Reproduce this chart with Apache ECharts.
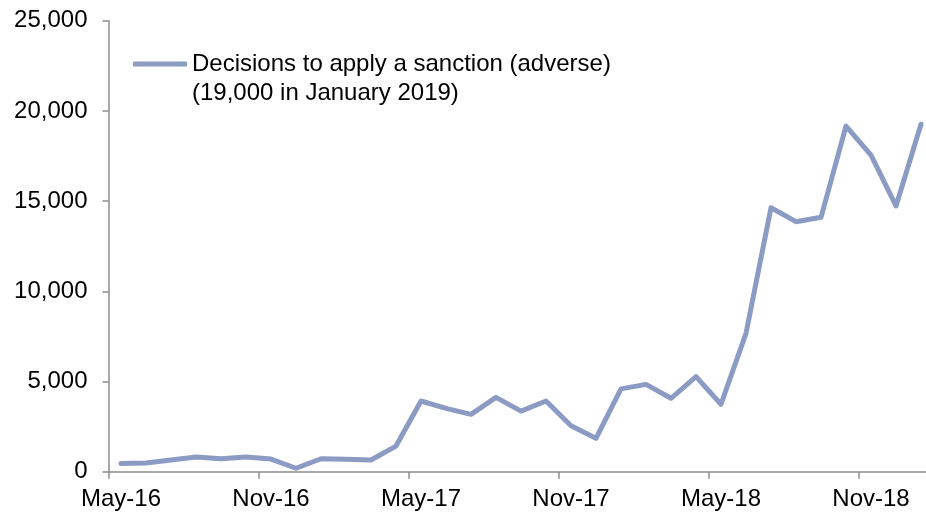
<!DOCTYPE html>
<html>
<head>
<meta charset="utf-8">
<script src="https://cdn.jsdelivr.net/npm/echarts@6/dist/echarts.min.js"></script>
<style>
html,body{margin:0;padding:0;background:#fff;overflow:hidden;width:926px;height:515px;}
#chart{width:934px;height:515px;}
</style>
</head>
<body>
<div id="chart"></div>
<script>
var categories = ["May-16","Jun-16","Jul-16","Aug-16","Sep-16","Oct-16","Nov-16","Dec-16","Jan-17","Feb-17","Mar-17","Apr-17",
  "May-17","Jun-17","Jul-17","Aug-17","Sep-17","Oct-17","Nov-17","Dec-17","Jan-18","Feb-18","Mar-18","Apr-18",
  "May-18","Jun-18","Jul-18","Aug-18","Sep-18","Oct-18","Nov-18","Dec-18","Jan-19"];
var sanctions = [450,480,650,820,720,810,700,190,720,690,650,1420,
  3920,3510,3180,4120,3360,3920,2550,1850,4590,4840,4070,5270,
  3740,7670,14630,13860,14100,19160,17550,14730,19260];
var seriesName = "Decisions to apply a sanction (adverse)";
var noteText = "(19,000 in January 2019)";

var FONT = "'Liberation Sans', Arial, sans-serif";
var chart = echarts.init(document.getElementById('chart'));
chart.setOption({
  animation: false,
  backgroundColor: '#ffffff',
  grid: {left: 108.5, right: 0.5, top: 20.7, height: 451, containLabel: false},
  legend: {
    left: 133, top: 52, padding: 0,
    icon: 'roundRect', itemWidth: 54, itemHeight: 5,
    textStyle: {fontFamily: FONT, fontSize: 24, color: '#000'},
    data: [seriesName]
  },
  graphic: [{
    type: 'text', left: 192, top: 81,
    style: {text: noteText, fontFamily: FONT, fontSize: 24, fill: '#000'}
  }],
  xAxis: {
    type: 'category', data: categories, boundaryGap: true,
    axisLine: {lineStyle: {color: '#8c8c8c', width: 1.5}},
    axisTick: {show: true, interval: 5, length: 7, lineStyle: {color: '#8c8c8c', width: 1.5}},
    axisLabel: {interval: 5, margin: 16, fontFamily: FONT, fontSize: 24, color: '#000'}
  },
  yAxis: {
    type: 'value', min: 0, max: 25000, interval: 5000,
    axisLine: {show: true, lineStyle: {color: '#8c8c8c', width: 1.5}},
    axisTick: {show: true, length: 6, lineStyle: {color: '#8c8c8c', width: 1.5}},
    splitLine: {show: false},
    axisLabel: {margin: 21, fontFamily: FONT, fontSize: 24, color: '#000',
      formatter: function(v){ return v.toLocaleString('en-US'); }}
  },
  series: [{
    name: seriesName, type: 'line', data: sanctions,
    showSymbol: false, symbol: 'none',
    lineStyle: {color: '#8b9bc3', width: 5, cap: 'round', join: 'round'},
    itemStyle: {color: '#8b9bc3'}
  }]
});
</script>
</body>
</html>
